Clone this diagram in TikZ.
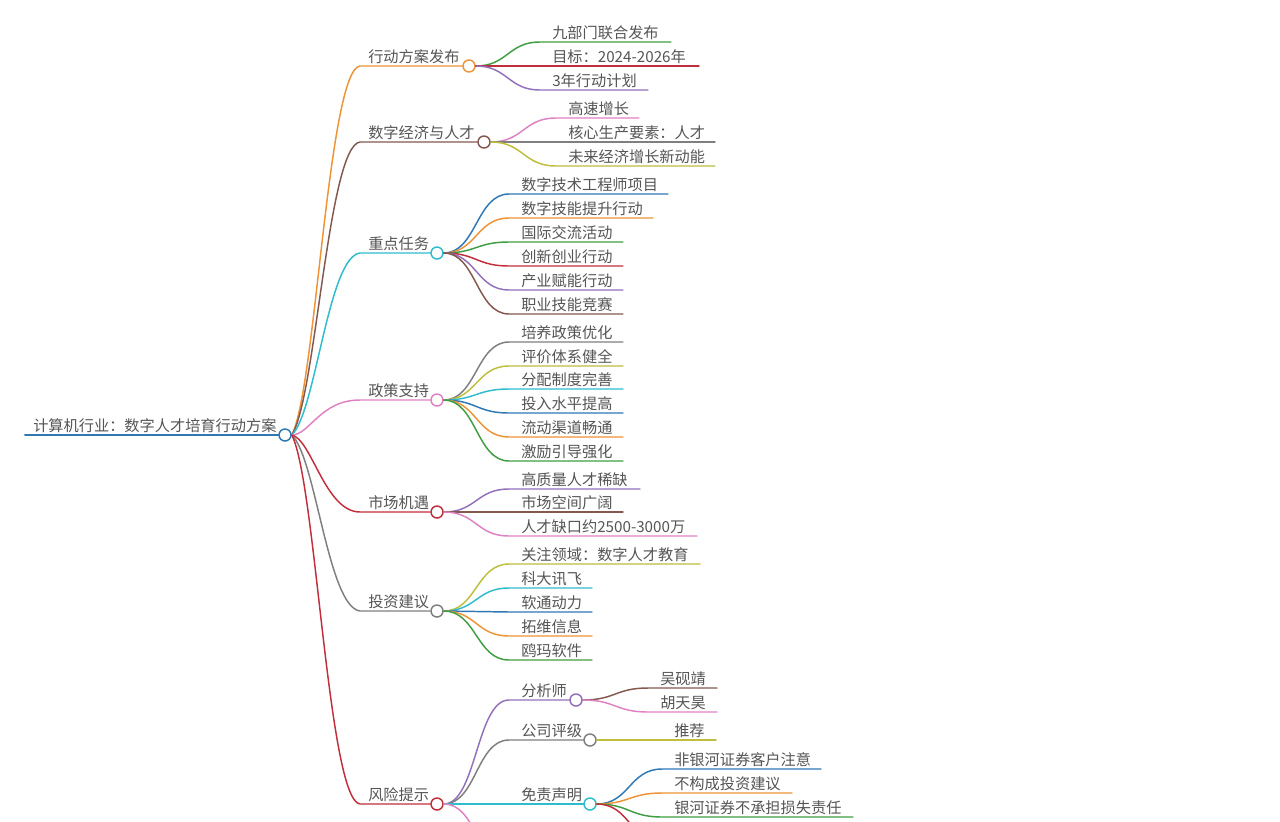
\documentclass[tikz,border=0pt]{standalone}
\usepackage{fontspec}
\setmainfont{Noto Sans CJK SC}
\usetikzlibrary{calc}
\definecolor{cblue}{HTML}{2F78B4}
\definecolor{corange}{HTML}{EE9336}
\definecolor{cgreen}{HTML}{3F9E42}
\definecolor{cred}{HTML}{C22F3C}
\definecolor{cpurple}{HTML}{9270BC}
\definecolor{cbrown}{HTML}{83584F}
\definecolor{cpink}{HTML}{DF82C4}
\definecolor{cgrey}{HTML}{7F7F7F}
\definecolor{colive}{HTML}{BEBE3C}
\definecolor{ccyan}{HTML}{2FBCCD}
\definecolor{ctext}{HTML}{555555}
\tikzset{
  dot/.style={circle,draw=#1,fill=white,line width=1.1pt,inner sep=0pt,minimum size=9pt},
  lab/.style={anchor=base west,inner sep=0pt,text=ctext,font=\fontsize{11.4}{13}\selectfont},
  lnk/.style={draw=#1,line width=1.1pt,line cap=round}
}
% name, parent, y, x curve end, x line end, x text, text, colour
\newcommand\leafline[8]{%
  \coordinate (#1s) at (#4,#3);
  \coordinate (#1e) at (#5,#3);
  \node[lab] (#1) at (#6,#3-3.5) {#7};
  \draw[lnk=#8] let \p1=(#2.east),\p2=(#1s),\n1={(\x2-\x1)*0.5} in
    (#2.east) .. controls +(\n1,0) and +(-\n1,0) .. (#1s) -- (#1e);
}
% name, y, x circle, text, colour, and the curve controls
\newcommand\mainbranch[6]{%
  \coordinate (#1s) at (360,#2);
  \node[dot=#5] (#1p) at (#3,#2) {};
  \node[lab] (#1) at (368,#2-3.5) {#4};
  \draw[lnk=#5] (root.east) .. controls #6 .. (#1s) -- (#1p.west);
}
\begin{document}
\begin{tikzpicture}[x=0.75pt,y=-0.75pt]
\useasboundingbox (0,0) rectangle (1280,821);
\fill[white] (0,0) rectangle (1280,821);
\clip (0,0) rectangle (1280,821);

\coordinate (roots) at (25,435);
\node[dot=cblue] (root) at (285,435) {};
\node[lab] (roott) at (33,431.5) {计算机行业：数字人才培育行动方案};
\draw[lnk=cblue,line width=1.5pt] (roots) -- (root.west);

\mainbranch{a}{66}{469}{行动方案发布}{corange}{+(24,-45) and +(-32,4)}
\mainbranch{b}{142}{484}{数字经济与人才}{cbrown}{+(24,-36) and +(-32,4)}
\mainbranch{c}{253}{437}{重点任务}{ccyan}{+(24,-22) and +(-32,4)}
\mainbranch{d}{400}{437}{政策支持}{cpink}{+(18,0) and +(-40,0)}
\mainbranch{e}{512}{437}{市场机遇}{cred}{+(20,4) and +(-35,0)}
\mainbranch{f}{611}{437}{投资建议}{cgrey}{+(24,22) and +(-32,-4)}
\mainbranch{g}{804}{437}{风险提示}{cred}{+(24,45) and +(-32,-4)}

\leafline{a1}{ap}{42}{540}{671}{552}{九部门联合发布}{cgreen}
\leafline{a2}{ap}{66}{540}{699}{552}{目标：2024-2026年}{cred}
\leafline{a3}{ap}{90}{540}{648}{552}{3年行动计划}{cpurple}

\leafline{b1}{bp}{118}{556}{639}{568}{高速增长}{cpink}
\leafline{b2}{bp}{142}{556}{715}{568}{核心生产要素：人才}{cgrey}
\leafline{b3}{bp}{166}{556}{715}{568}{未来经济增长新动能}{colive}

\leafline{c1}{cp}{194}{509}{668}{521}{数字技术工程师项目}{cblue}
\leafline{c2}{cp}{218}{509}{653}{521}{数字技能提升行动}{corange}
\leafline{c3}{cp}{242}{509}{623}{521}{国际交流活动}{cgreen}
\leafline{c4}{cp}{266}{509}{623}{521}{创新创业行动}{cred}
\leafline{c5}{cp}{290}{509}{623}{521}{产业赋能行动}{cpurple}
\leafline{c6}{cp}{314}{509}{623}{521}{职业技能竞赛}{cbrown}

\leafline{d1}{dp}{342}{509}{623}{521}{培养政策优化}{cgrey}
\leafline{d2}{dp}{366}{509}{623}{521}{评价体系健全}{colive}
\leafline{d3}{dp}{389}{509}{623}{521}{分配制度完善}{ccyan}
\leafline{d4}{dp}{413}{509}{623}{521}{投入水平提高}{cblue}
\leafline{d5}{dp}{437}{509}{623}{521}{流动渠道畅通}{corange}
\leafline{d6}{dp}{461}{509}{623}{521}{激励引导强化}{cgreen}

\leafline{e1}{ep}{489}{509}{640}{521}{高质量人才稀缺}{cpurple}
\leafline{e2}{ep}{512}{509}{623}{521}{市场空间广阔}{cbrown}
\leafline{e3}{ep}{536}{509}{697}{521}{人才缺口约2500-3000万}{cpink}

\leafline{f1}{fp}{564}{509}{700}{521}{关注领域：数字人才教育}{colive}
\leafline{f2}{fp}{588}{509}{592}{521}{科大讯飞}{ccyan}
\leafline{f3}{fp}{612}{509}{592}{521}{软通动力}{cblue}
\leafline{f4}{fp}{636}{509}{592}{521}{拓维信息}{corange}
\leafline{f5}{fp}{660}{509}{592}{521}{鸥玛软件}{cgreen}

\node[dot=cpurple] (g1p) at (576,700) {};
\node[dot=cgrey] (g2p) at (590,740) {};
\node[dot=ccyan] (g3p) at (590,804) {};
\leafline{g1}{gp}{700}{509}{570}{521}{分析师}{cpurple}
\leafline{g2}{gp}{740}{509}{584}{521}{公司评级}{cgrey}
\leafline{g3}{gp}{804}{509}{584}{521}{免责声明}{ccyan}
\coordinate (g4s) at (509,864);
\draw[lnk=cpink] (gp.east) .. controls +(33,0) and +(-33,0) .. (g4s);

\leafline{h1}{g1p}{688}{648}{717}{660}{吴砚靖}{cbrown}
\leafline{h2}{g1p}{712}{648}{717}{660}{胡天昊}{cpink}
\leafline{i1}{g2p}{740}{662}{716}{674}{推荐}{colive}
\leafline{j1}{g3p}{769}{662}{821}{674}{非银河证券客户注意}{cblue}
\leafline{j2}{g3p}{793}{662}{792}{674}{不构成投资建议}{corange}
\leafline{j3}{g3p}{817}{662}{853}{674}{银河证券不承担损失责任}{cgreen}
\coordinate (j4s) at (662,841);
\draw[lnk=cred] (g3p.east) .. controls +(33,0) and +(-33,0) .. (j4s);
\end{tikzpicture}
\end{document}
